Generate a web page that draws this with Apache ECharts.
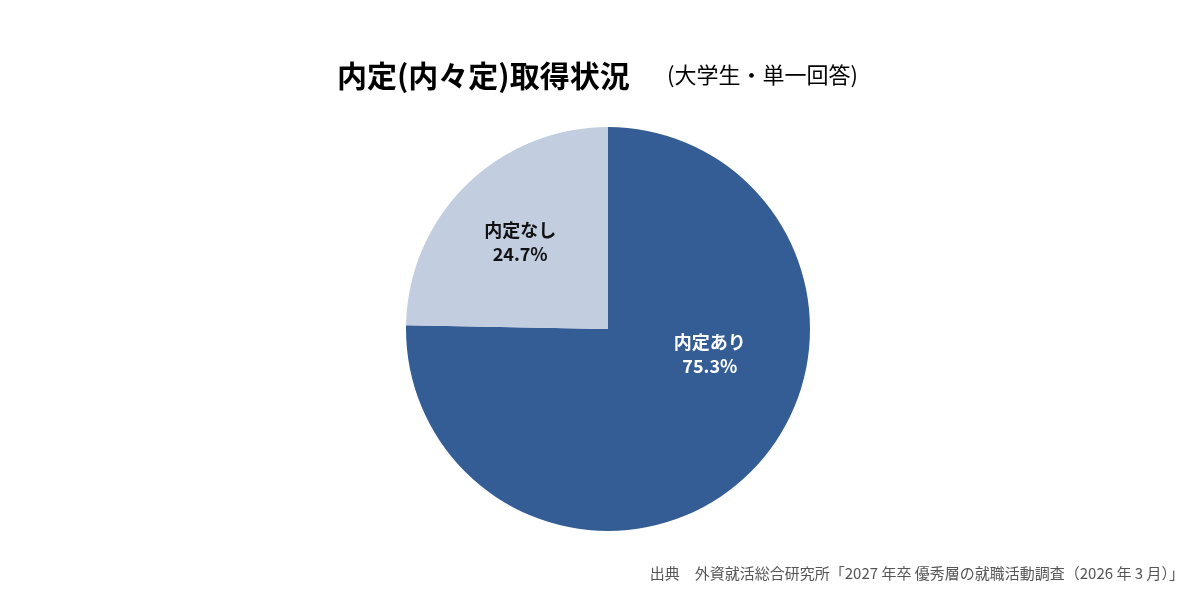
<!DOCTYPE html>
<html><head><meta charset="utf-8">
<script src="https://cdn.jsdelivr.net/npm/echarts@6/dist/echarts.min.js"></script>
<style>html,body{margin:0;background:#fff}#c{width:1200px;height:600px}</style>
</head><body><div id="c"></div>
<script>
const categories = ['内定あり', '内定なし'];
const values = [75.3, 24.7];
const colors = ['#345d96', '#c2cde0'];
const labelColors = ['#ffffff', '#111111'];
const labelOffsets = [[29, -49], [-15, -13]];

const chart = echarts.init(document.getElementById('c'));
chart.setOption({
  textStyle: {fontFamily: 'Noto Sans CJK JP'},
  title: {
    text: '内定(内々定)取得状況',
    subtext: '',
    left: 332, top: 56,
    textStyle: {fontSize: 30, fontWeight: 'bold', color: '#000', fontFamily: 'Noto Sans CJK JP'}
  },
  graphic: [
    {type: 'text', left: 667, top: 64, style: {text: '(大学生・単一回答)', fontSize: 22, fill: '#000', fontFamily: 'Noto Sans CJK JP'}},
    {type: 'text', right: 16, top: 566, style: {text: '出典　外資就活総合研究所「2027 年卒 優秀層の就職活動調査（2026 年 3 月）」', fontSize: 15, fill: '#555', fontFamily: 'Noto Sans CJK JP'}}
  ],
  series: [{
    type: 'pie',
    center: [608, 329],
    radius: 202,
    startAngle: 90,
    clockwise: true,
    silent: true,
    data: categories.map((n, i) => ({
      name: n, value: values[i],
      itemStyle: {color: colors[i]},
      label: {color: labelColors[i], offset: labelOffsets[i]}
    })),
    label: {
      position: 'inside',
      formatter: p => p.name + '\n' + p.value.toFixed(1) + '%',
      fontSize: 18, fontWeight: 'bold', lineHeight: 24, align: 'center'
    },
    labelLine: {show: false}
  }]
});
</script></body></html>
